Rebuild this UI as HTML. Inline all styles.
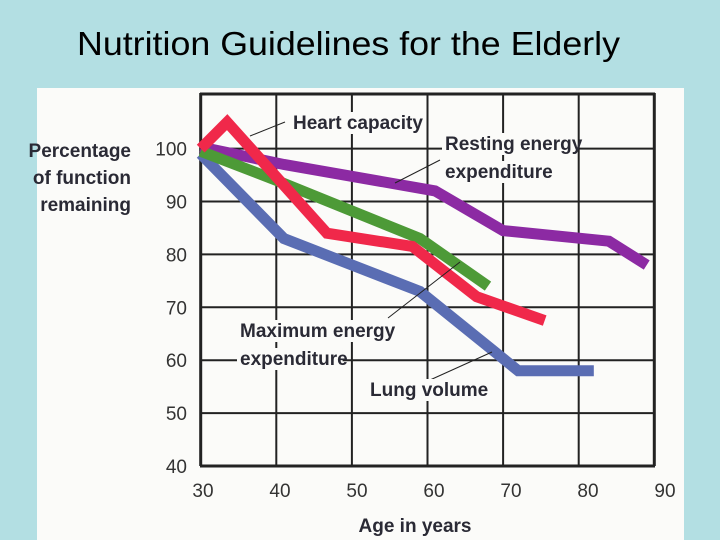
<!DOCTYPE html>
<html><head><meta charset="utf-8"><style>
html,body{margin:0;padding:0;background:#b3dfe3;}
svg{display:block;}
.lbl{font-family:"Liberation Sans Narrow","Liberation Sans",sans-serif;font-weight:bold;font-size:19px;fill:#2a2a35;}
.tick{font-family:"Liberation Sans Narrow","Liberation Sans",sans-serif;font-size:19px;fill:#333;}
</style></head><body>
<svg id="chart" width="720" height="540" viewBox="0 0 720 540">
<rect x="0" y="0" width="720" height="540" fill="#b3dfe3"/>
<text x="77" y="55" textLength="543" lengthAdjust="spacingAndGlyphs" font-family="Liberation Sans, sans-serif" font-size="33" fill="#000">Nutrition Guidelines for the Elderly</text>
<rect x="37" y="88" width="647" height="452" fill="#fbfbf9"/>
<g id="grid"></g>
<g id="series"></g>
<g id="notes"></g>
<text class="lbl" x="131" y="157" text-anchor="end"><tspan x="131">Percentage</tspan><tspan x="131" dy="27">of function</tspan><tspan x="131" dy="27">remaining</tspan></text>
<text class="lbl" x="415" y="532" text-anchor="middle">Age in years</text>
</svg>
<script>
const xTicks=[30,40,50,60,70,80,90];
const yTicks=[40,50,60,70,80,90,100];
const heartAge=[30,33.5,46.7,58,66.5,75.5];
const heartVal=[100,105,84,81.5,72,67.5];
const restAge=[30,41,61,70,84,89];
const restVal=[100.3,97,92,84.5,82.5,78];
const maxAge=[30,40,59,68];
const maxVal=[99.5,94,83,74];
const lungAge=[30,41,59,72,82];
const lungVal=[99,83,73,58,58];
const NS="http://www.w3.org/2000/svg";
function X(v){return 200.7+(v-30)*7.56;}
function Y(v){return 466-(v-40)*5.29;}
const grid=document.getElementById('grid');
function mk(tag,at,parent){const e=document.createElementNS(NS,tag);for(const k in at)e.setAttribute(k,at[k]);parent.appendChild(e);return e;}
xTicks.forEach(v=>{
 const l=mk('line',{x1:X(v),x2:X(v),y1:93,y2:466,stroke:'#222','stroke-width':v==30||v==90?3:2},grid);
 
 
 const t=mk('text',{x:203+(v-30)*7.7,y:497,'text-anchor':'middle',class:'tick'},grid);t.textContent=v;
 
 
});
yTicks.forEach(v=>{
 const l=mk('line',{x1:200,x2:655,y1:Y(v),y2:Y(v),stroke:'#222','stroke-width':v==40?3:2},grid);
 
 
 const t=mk('text',{x:187,y:Y(v)+7,'text-anchor':'end',class:'tick'},grid);t.textContent=v;
 
 
});
const tb=mk('line',{x1:200,x2:655,y1:94,y2:94,stroke:'#222','stroke-width':3},grid);


const ser=document.getElementById('series');
function line(ax,vals,col,name){
 const p=mk('polyline',{points:ax.map((a,i)=>X(a)+','+Y(vals[i])).join(' '),fill:'none',stroke:col,'stroke-width':11,'stroke-linejoin':'miter'},ser);
 
 
}
line(restAge,restVal,'#8c2aa3','resting-energy-line');
line(lungAge,lungVal,'#5a6db3','lung-volume-line');
line(maxAge,maxVal,'#4d9a37','maximum-energy-line');
line(heartAge,heartVal,'#f0284a','heart-capacity-line');
const notes=document.getElementById('notes');
function lead(x1,y1,x2,y2,n){const l=mk('line',{x1,y1,x2,y2,stroke:'#222','stroke-width':1},notes);
 
 }
lead(250,136,285,122,'heart-leader');lead(395,183,440,160,'resting-leader');
lead(388,318,460,262,'max-leader');lead(430,380,492,352,'lung-leader');
function lab(x,y,txt,n){const b=mk('rect',{x:x-3,y:y-17,width:txt.length*9.6,height:22,fill:'#fbfbf9'},notes);
 
 
 const t=mk('text',{x,y,class:'lbl'},notes);t.textContent=txt;
 
 }
lab(293,129,'Heart capacity','heart-capacity-label');
lab(445,150,'Resting energy','resting-energy-label');
lab(445,178,'expenditure','resting-energy-label-2');
lab(240,337,'Maximum energy','maximum-energy-label');
lab(240,365,'expenditure','maximum-energy-label-2');
lab(370,396,'Lung volume','lung-volume-label');
</script>
</body></html>
